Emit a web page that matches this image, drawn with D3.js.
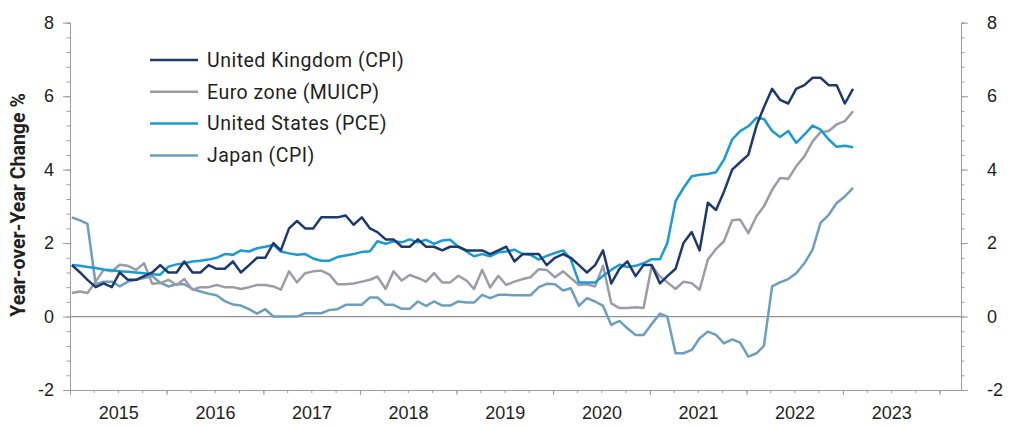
<!DOCTYPE html>
<html>
<head>
<meta charset="utf-8">
<script src="https://cdn.jsdelivr.net/npm/d3@7"></script>
<style>
  body { margin: 0; background: #fff; }
  svg { display: block; font-family: Roboto, "Noto Sans", sans-serif; }
  .tick text, .label { fill: #231f20; }
  .axis path, .axis line { stroke: #9b9ba6; }
</style>
</head>
<body>
<div id="chart"></div>
<script>
// monthly observations, Jan 2015 .. Feb 2023
const months = d3.timeMonth.range(new Date(2015, 0, 1), new Date(2023, 2, 1));

const ukCPI = [
  1.4, 1.2, 1.0, 0.8, 0.9, 0.8, 1.2, 1.0, 1.0, 1.1, 1.2, 1.4,
  1.2, 1.2, 1.5, 1.2, 1.2, 1.4, 1.3, 1.3, 1.5, 1.2, 1.4, 1.6,
  1.6, 2.0, 1.8, 2.4, 2.6, 2.4, 2.4, 2.7, 2.7, 2.7, 2.75, 2.5,
  2.7, 2.4, 2.3, 2.1, 2.1, 1.9, 1.9, 2.1, 1.9, 1.9, 1.8, 1.9,
  1.9, 1.8, 1.8, 1.8, 1.7, 1.8, 1.9, 1.5, 1.7, 1.7, 1.7, 1.4,
  1.6, 1.7, 1.6, 1.4, 1.2, 1.4, 1.8, 0.9, 1.3, 1.5, 1.1, 1.4,
  1.4, 0.9, 1.1, 1.3, 2.0, 2.3, 1.8, 3.1, 2.9, 3.4, 4.0, 4.2,
  4.4, 5.2, 5.7, 6.2, 5.9, 5.8, 6.2, 6.3, 6.5, 6.5, 6.3, 6.3,
  5.8, 6.2
];
const euroMUICP = [
  0.64, 0.68, 0.64, 0.95, 1.27, 1.23, 1.41, 1.38, 1.27, 1.45, 0.89, 0.91,
  1.0, 0.86, 1.02, 0.73, 0.8, 0.8, 0.86, 0.8, 0.8, 0.75, 0.8, 0.86,
  0.86, 0.82, 0.73, 1.23, 0.93, 1.18, 1.23, 1.25, 1.14, 0.88, 0.88, 0.9,
  0.95, 1.0, 1.09, 0.75, 1.23, 0.98, 1.13, 1.05, 0.95, 1.18, 0.93, 0.93,
  1.11, 0.98, 0.75, 1.27, 0.79, 1.11, 0.86, 0.95, 1.02, 1.07, 1.29, 1.27,
  1.07, 1.23, 1.05, 0.86, 0.88, 0.82, 1.38, 0.36, 0.23, 0.23, 0.25, 0.23,
  1.38, 1.09, 0.93, 0.75, 0.95, 0.91, 0.73, 1.55, 1.84, 2.05, 2.62, 2.64,
  2.27, 2.73, 3.0, 3.45, 3.77, 3.75, 4.09, 4.36, 4.77, 5.02, 5.05, 5.23,
  5.32, 5.59
];
const usPCE = [
  1.4, 1.38, 1.35, 1.32, 1.28, 1.26, 1.23, 1.22, 1.2, 1.18, 1.15, 1.14,
  1.36, 1.42, 1.45, 1.5, 1.52, 1.55, 1.6, 1.7, 1.68, 1.8, 1.77, 1.86,
  1.9, 1.95, 1.77, 1.72, 1.68, 1.7, 1.58, 1.52, 1.52, 1.62, 1.66, 1.7,
  1.76, 1.78, 2.05, 1.98, 2.05, 2.02, 2.1, 2.02, 2.09, 1.98, 2.07, 2.09,
  1.9, 1.77, 1.64, 1.7, 1.64, 1.75, 1.77, 1.82, 1.7, 1.68, 1.55, 1.65,
  1.73, 1.8, 1.56, 0.93, 0.93, 0.93, 1.11, 1.27, 1.41, 1.35, 1.38, 1.45,
  1.56, 1.56, 2.0, 3.14, 3.5, 3.82, 3.86, 3.88, 3.93, 4.27, 4.82, 5.05,
  5.18, 5.41, 5.38, 5.05, 4.89, 5.05, 4.73, 4.95, 5.2, 5.09, 4.82, 4.62,
  4.65, 4.61
];
const japanCPI = [
  2.7, 2.62, 2.52, 0.88, 0.95, 0.95, 0.82, 0.95, 1.0, 1.05, 1.1, 0.92,
  0.82, 0.88, 0.88, 0.75, 0.68, 0.62, 0.58, 0.42, 0.33, 0.3, 0.2, 0.08,
  0.2, 0.0, 0.0, 0.0, 0.0, 0.09, 0.09, 0.09, 0.18, 0.2, 0.32, 0.32,
  0.32, 0.52, 0.52, 0.32, 0.32, 0.21, 0.21, 0.41, 0.29, 0.41, 0.3, 0.3,
  0.41, 0.38, 0.38, 0.59, 0.5, 0.59, 0.59, 0.58, 0.58, 0.58, 0.8, 0.89,
  0.88, 0.71, 0.77, 0.29, 0.5, 0.41, 0.29, -0.23, -0.12, -0.32, -0.5, -0.5,
  -0.2, 0.08, 0.0, -1.0, -1.0, -0.91, -0.59, -0.41, -0.5, -0.73, -0.62, -0.71,
  -1.09, -1.0, -0.8, 0.82, 0.93, 1.02, 1.18, 1.45, 1.82, 2.55, 2.77, 3.09,
  3.27, 3.5
];

const seriesNames = ["United Kingdom (CPI)", "Euro zone (MUICP)", "United States (PCE)", "Japan (CPI)"];
const seriesColors = ["#1d3a6f", "#9c9ca6", "#1a9bd7", "#6c9fbf"];
const seriesValues = [ukCPI, euroMUICP, usPCE, japanCPI];
// drawing order: Japan at the back, UK on top
const drawOrder = [3, 1, 2, 0];

const yMajorTicks = [-2, 0, 2, 4, 6, 8];
const yearLabels = d3.range(2015, 2024);

const width = 1017, height = 427;
const margin = { left: 70, right: 56, top: 22.7, bottom: 37 };

const x = d3.scaleTime()
  .domain([new Date(2015, 0, 1), new Date(2024, 2, 22)])
  .range([margin.left, width - margin.right]);
const y = d3.scaleLinear()
  .domain([-2, 8])
  .range([height - margin.bottom, margin.top]);

const svg = d3.select("#chart").append("svg")
  .attr("width", width)
  .attr("height", height);

// zero line
svg.append("line")
  .attr("x1", x.range()[0]).attr("x2", x.range()[1])
  .attr("y1", y(0)).attr("y2", y(0))
  .attr("stroke", "#8f8f99")
  .attr("stroke-width", 1.2);

const plain = d => String(d); // hyphen minus like the original

// left axis
const yMinor = d3.range(-2, 8.01, 0.4);
svg.append("g").attr("class", "axis")
  .attr("transform", `translate(${margin.left},0)`)
  .call(d3.axisLeft(y).tickValues(yMinor).tickSize(3.5).tickFormat(""));
svg.append("g").attr("class", "axis")
  .attr("transform", `translate(${margin.left},0)`)
  .call(d3.axisLeft(y).tickValues(yMajorTicks).tickSize(7).tickSizeOuter(0).tickPadding(9).tickFormat(plain))
  .call(g => g.selectAll("text").attr("font-size", 18));

// right axis
const xr = width - margin.right;
svg.append("g").attr("class", "axis")
  .attr("transform", `translate(${xr},0)`)
  .call(d3.axisRight(y).tickValues(yMinor).tickSize(3.5).tickFormat(""));
svg.append("g").attr("class", "axis")
  .attr("transform", `translate(${xr},0)`)
  .call(d3.axisRight(y).tickValues(yMajorTicks).tickSize(7).tickSizeOuter(0).tickPadding(19).tickFormat(plain))
  .call(g => g.selectAll("text").attr("font-size", 18));

// bottom axis
const yb = height - margin.bottom;
svg.append("g").attr("class", "axis")
  .attr("transform", `translate(0,${yb})`)
  .call(d3.axisBottom(x).tickValues(d3.timeMonth.every(3).range(new Date(2015, 0, 1), x.domain()[1])).tickSize(3).tickSizeOuter(0).tickFormat(""));
svg.append("g").attr("class", "axis")
  .attr("transform", `translate(0,${yb})`)
  .call(d3.axisBottom(x).tickValues(d3.timeYear.range(new Date(2015, 0, 1), x.domain()[1])).tickSize(5).tickSizeOuter(0).tickFormat(""));
svg.append("g").attr("class", "axis")
  .attr("transform", `translate(0,${yb})`)
  .call(d3.axisBottom(x).tickValues(yearLabels.map(yr => new Date(yr, 6, 2))).tickSize(0).tickPadding(16).tickFormat(d3.timeFormat("%Y")))
  .call(g => g.select(".domain").remove())
  .call(g => g.selectAll("text").attr("font-size", 18));

// y axis title
svg.append("text")
  .attr("class", "label")
  .attr("transform", `translate(25,205) rotate(-90)`)
  .attr("text-anchor", "middle")
  .attr("font-size", 19.5)
  .attr("font-weight", "bold")
  .text("Year-over-Year Change %");

// lines
const line = d3.line()
  .x((d, i) => x(d3.timeDay.offset(months[i], 7)))
  .y(d => y(d));

svg.append("g")
  .selectAll("path")
  .data(drawOrder)
  .join("path")
  .attr("fill", "none")
  .attr("stroke", k => seriesColors[k])
  .attr("stroke-width", 2.5)
  .attr("stroke-linejoin", "round")
  .attr("d", k => line(seriesValues[k]));

// legend
const legend = svg.append("g").attr("transform", "translate(150,60)");
const row = legend.selectAll("g")
  .data(seriesNames)
  .join("g")
  .attr("transform", (d, i) => `translate(0,${i * 31.8})`);
row.append("line")
  .attr("x1", 0).attr("x2", 48)
  .attr("stroke", (d, i) => seriesColors[i])
  .attr("stroke-width", 2.5);
row.append("text")
  .attr("class", "label")
  .attr("x", 57)
  .attr("dy", "0.35em")
  .attr("font-size", 19.5)
  .attr("letter-spacing", 0.5)
  .text(d => d);
</script>
</body>
</html>
